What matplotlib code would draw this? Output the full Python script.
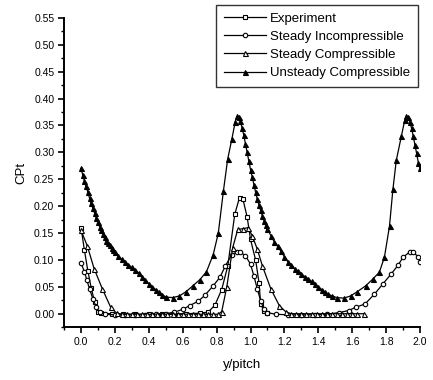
import matplotlib
matplotlib.use("Agg")
import matplotlib.pyplot as plt
from matplotlib.ticker import MultipleLocator

plt.rcParams['font.family'] = ['Liberation Sans', 'DejaVu Sans']

# Experiment (open squares)
exp_x = [0.00, 0.02, 0.04, 0.06, 0.08, 0.10, 0.12, 0.18, 0.25, 0.32, 0.40,
         0.48, 0.55, 0.62, 0.70, 0.75, 0.79, 0.83, 0.866, 0.907, 0.935,
         0.955, 0.98, 1.00, 1.03, 1.05, 1.06, 1.08, 1.10]
exp_y = [0.160, 0.118, 0.080, 0.048, 0.022, 0.004, 0.001, 0.000, -0.001,
         -0.001, -0.001, 0.000, 0.000, 0.000, 0.001, 0.003, 0.016, 0.045,
         0.089, 0.185, 0.216, 0.213, 0.180, 0.138, 0.100, 0.058, 0.018,
         0.005, 0.001]

# Steady Incompressible (open circles)
inc_x = [0.00, 0.02, 0.035, 0.05, 0.07, 0.09, 0.11, 0.14, 0.20, 0.26, 0.32,
         0.38, 0.44, 0.50, 0.55, 0.60, 0.64, 0.69, 0.73, 0.78, 0.82, 0.85,
         0.89, 0.92, 0.94, 0.97, 1.00, 1.02, 1.04, 1.06, 1.08, 1.10, 1.15,
         1.22, 1.30, 1.38, 1.45, 1.52, 1.58, 1.62, 1.675, 1.73, 1.78, 1.83,
         1.87, 1.90, 1.94, 1.96, 1.99, 2.00]
inc_y = [0.094, 0.078, 0.062, 0.046, 0.028, 0.012, 0.003, -0.001, -0.002,
         -0.002, -0.002, -0.002, -0.001, 0.000, 0.003, 0.008, 0.015, 0.023,
         0.034, 0.052, 0.068, 0.088, 0.110, 0.115, 0.114, 0.108, 0.092,
         0.070, 0.046, 0.024, 0.008, 0.002, -0.001, -0.002, -0.002, -0.002,
         -0.001, 0.002, 0.006, 0.012, 0.018, 0.036, 0.055, 0.074, 0.090,
         0.105, 0.115, 0.114, 0.106, 0.096]

# Steady Compressible (open triangles)
sc_x = [0.00, 0.037, 0.077, 0.126, 0.175, 0.21, 0.24, 0.27, 0.30, 0.33,
        0.36, 0.39, 0.42, 0.45, 0.48, 0.51, 0.54, 0.57, 0.60, 0.63, 0.66,
        0.69, 0.72, 0.75, 0.78, 0.81, 0.83, 0.86, 0.895, 0.925, 0.955,
        0.985, 1.01, 1.04, 1.07, 1.12, 1.17, 1.21, 1.24, 1.27, 1.30, 1.33,
        1.36, 1.39, 1.42, 1.45, 1.48, 1.51, 1.54, 1.57, 1.60, 1.63, 1.67]
sc_y = [0.155, 0.126, 0.084, 0.046, 0.012, 0.001, -0.001, -0.001, -0.001,
        -0.001, -0.001, -0.001, -0.001, -0.001, -0.001, -0.001, -0.001,
        -0.001, -0.001, -0.001, -0.001, -0.001, -0.001, -0.001, -0.001,
        -0.001, 0.004, 0.050, 0.123, 0.157, 0.158, 0.160, 0.145, 0.120,
        0.089, 0.046, 0.015, 0.003, 0.000, 0.000, 0.000, 0.000, 0.000,
        0.000, 0.000, 0.000, 0.000, 0.000, 0.000, 0.000, 0.000, 0.000, 0.000]

# Unsteady Compressible (filled triangles)
us_x = [0.00, 0.01, 0.02, 0.03, 0.04, 0.05, 0.06, 0.07, 0.08, 0.09, 0.10,
        0.11, 0.12, 0.13, 0.14, 0.15, 0.16, 0.17, 0.18, 0.19, 0.20, 0.22,
        0.24, 0.26, 0.28, 0.30, 0.32, 0.34, 0.36, 0.38, 0.40, 0.42, 0.44,
        0.46, 0.48, 0.50, 0.54, 0.58, 0.62, 0.66, 0.70, 0.74, 0.78, 0.81,
        0.84, 0.865, 0.89, 0.91, 0.92, 0.93, 0.94, 0.95, 0.96, 0.97, 0.98,
        0.99, 1.00, 1.01, 1.02, 1.03, 1.04, 1.05, 1.06, 1.07, 1.08, 1.09,
        1.10, 1.12, 1.14, 1.16, 1.18, 1.20, 1.22, 1.24, 1.26, 1.28, 1.30,
        1.32, 1.34, 1.36, 1.38, 1.40, 1.42, 1.44, 1.46, 1.48, 1.51, 1.55,
        1.59, 1.63, 1.68, 1.72, 1.76, 1.79, 1.82, 1.84, 1.86, 1.89, 1.91,
        1.92, 1.93, 1.94, 1.95, 1.96, 1.97, 1.98, 1.99, 2.00]
us_y = [0.270, 0.258, 0.247, 0.237, 0.226, 0.215, 0.205, 0.196, 0.187,
        0.178, 0.170, 0.162, 0.155, 0.148, 0.142, 0.136, 0.131, 0.127,
        0.122, 0.118, 0.114, 0.107, 0.101, 0.096, 0.091, 0.086, 0.081,
        0.076, 0.069, 0.062, 0.056, 0.050, 0.045, 0.040, 0.035, 0.031,
        0.030, 0.033, 0.041, 0.052, 0.063, 0.078, 0.110, 0.150, 0.228,
        0.287, 0.325, 0.357, 0.367, 0.366, 0.358, 0.346, 0.332, 0.316,
        0.300, 0.284, 0.268, 0.254, 0.240, 0.226, 0.213, 0.202, 0.192,
        0.182, 0.173, 0.165, 0.158, 0.145, 0.134, 0.125, 0.116, 0.106,
        0.097, 0.090, 0.084, 0.079, 0.074, 0.069, 0.065, 0.060, 0.055,
        0.050, 0.045, 0.040, 0.036, 0.033, 0.030, 0.029, 0.033, 0.041,
        0.052, 0.064, 0.077, 0.105, 0.163, 0.231, 0.285, 0.330, 0.360,
        0.367, 0.366, 0.357, 0.345, 0.330, 0.314, 0.298, 0.281, 0.270]

fig = plt.figure(figsize=(4.33, 3.8), dpi=100)
ax = fig.add_axes([0.148, 0.139, 0.822, 0.814])

ms = 3.2
ax.plot(exp_x, exp_y, color='black', lw=0.9, marker='s', ms=ms,
        mfc='white', mec='black', mew=0.8, label='Experiment')
ax.plot(inc_x, inc_y, color='black', lw=0.9, marker='o', ms=ms,
        mfc='white', mec='black', mew=0.8, label='Steady Incompressible')
ax.plot(sc_x, sc_y, color='black', lw=0.9, marker='^', ms=ms + 0.4,
        mfc='white', mec='black', mew=0.8, label='Steady Compressible')
ax.plot(us_x, us_y, color='black', lw=0.9, marker='^', ms=ms + 0.4,
        mfc='black', mec='black', mew=0.8, label='Unsteady Compressible')

ax.set_xlim(-0.1, 2.0)
ax.set_ylim(-0.025, 0.55)
ax.xaxis.set_major_locator(MultipleLocator(0.2))
ax.xaxis.set_minor_locator(MultipleLocator(0.1))
ax.yaxis.set_major_locator(MultipleLocator(0.05))
ax.yaxis.set_minor_locator(MultipleLocator(0.025))
ax.xaxis.set_major_formatter(plt.FuncFormatter(lambda v, p: f"{v:.1f}"))
ax.yaxis.set_major_formatter(plt.FuncFormatter(lambda v, p: f"{v:.2f}"))

for side in ('top', 'right'):
    ax.spines[side].set_visible(False)
for side in ('left', 'bottom'):
    ax.spines[side].set_linewidth(1.4)

ax.tick_params(which='major', direction='out', length=4, width=1.2,
               labelsize=7.5, pad=3)
ax.tick_params(which='minor', direction='out', length=2.5, width=1.0)

ax.set_xlabel('y/pitch', fontsize=9.5, labelpad=9)
ax.set_ylabel('CPt', fontsize=9.5, labelpad=5)

leg = fig.legend(loc='upper right', bbox_to_anchor=(0.966, 0.988),
                 fontsize=9.5, frameon=True, fancybox=False, numpoints=1,
                 handlelength=3.2, borderpad=0.6, labelspacing=0.45,
                 handletextpad=0.3, borderaxespad=0)
leg.get_frame().set_edgecolor('black')
leg.get_frame().set_linewidth(1.0)

fig.savefig('out.png', dpi=100)
